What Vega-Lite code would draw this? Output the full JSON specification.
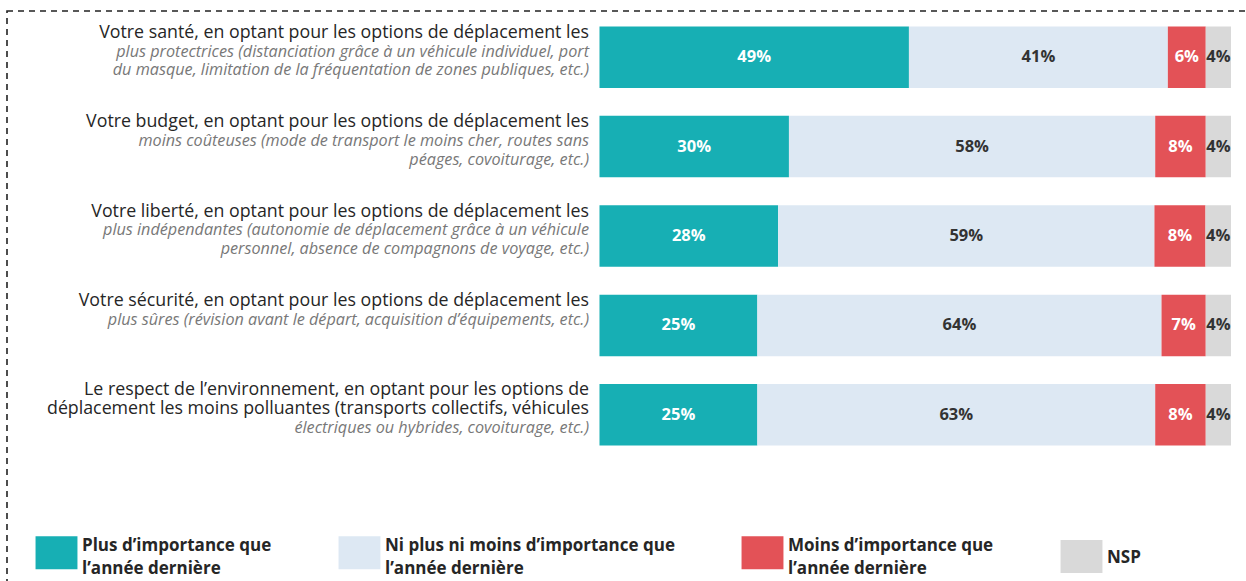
{
  "$schema": "https://vega.github.io/schema/vega-lite/v6.json",
  "width": 1260,
  "height": 600,
  "autosize": {"type": "none"},
  "padding": {"left": 7, "top": 11, "right": 0, "bottom": 0},
  "background": "white",
  "config": {
    "view": {"stroke": "#222222", "strokeWidth": 1.6, "strokeDash": [6, 5]},
    "font": "Open Sans"
  },
  "datasets": {
    "bars": [
      {"item": "Votre santé", "cat": "Plus d’importance que l’année dernière", "k": 1, "value": 49},
      {"item": "Votre santé", "cat": "Ni plus ni moins d’importance que l’année dernière", "k": 2, "value": 41},
      {"item": "Votre santé", "cat": "Moins d’importance que l’année dernière", "k": 3, "value": 6},
      {"item": "Votre santé", "cat": "NSP", "k": 4, "value": 4},
      {"item": "Votre budget", "cat": "Plus d’importance que l’année dernière", "k": 1, "value": 30},
      {"item": "Votre budget", "cat": "Ni plus ni moins d’importance que l’année dernière", "k": 2, "value": 58},
      {"item": "Votre budget", "cat": "Moins d’importance que l’année dernière", "k": 3, "value": 8},
      {"item": "Votre budget", "cat": "NSP", "k": 4, "value": 4},
      {"item": "Votre liberté", "cat": "Plus d’importance que l’année dernière", "k": 1, "value": 28},
      {"item": "Votre liberté", "cat": "Ni plus ni moins d’importance que l’année dernière", "k": 2, "value": 59},
      {"item": "Votre liberté", "cat": "Moins d’importance que l’année dernière", "k": 3, "value": 8},
      {"item": "Votre liberté", "cat": "NSP", "k": 4, "value": 4},
      {"item": "Votre sécurité", "cat": "Plus d’importance que l’année dernière", "k": 1, "value": 25},
      {"item": "Votre sécurité", "cat": "Ni plus ni moins d’importance que l’année dernière", "k": 2, "value": 64},
      {"item": "Votre sécurité", "cat": "Moins d’importance que l’année dernière", "k": 3, "value": 7},
      {"item": "Votre sécurité", "cat": "NSP", "k": 4, "value": 4},
      {"item": "Le respect de l’environnement", "cat": "Plus d’importance que l’année dernière", "k": 1, "value": 25},
      {"item": "Le respect de l’environnement", "cat": "Ni plus ni moins d’importance que l’année dernière", "k": 2, "value": 63},
      {"item": "Le respect de l’environnement", "cat": "Moins d’importance que l’année dernière", "k": 3, "value": 8},
      {"item": "Le respect de l’environnement", "cat": "NSP", "k": 4, "value": 4}
    ],
    "labels": [
      {"item": "Votre santé", "line": 0, "s": "n", "text": "Votre santé, en optant pour les options de déplacement les"},
      {"item": "Votre santé", "line": 1, "s": "i", "text": "plus protectrices (distanciation grâce à un véhicule individuel, port"},
      {"item": "Votre santé", "line": 2, "s": "i", "text": "du masque, limitation de la fréquentation de zones publiques, etc.)"},
      {"item": "Votre budget", "line": 0, "s": "n", "text": "Votre budget, en optant pour les options de déplacement les"},
      {"item": "Votre budget", "line": 1, "s": "i", "text": "moins coûteuses (mode de transport le moins cher, routes sans"},
      {"item": "Votre budget", "line": 2, "s": "i", "text": "péages, covoiturage, etc.)"},
      {"item": "Votre liberté", "line": 0, "s": "n", "text": "Votre liberté, en optant pour les options de déplacement les"},
      {"item": "Votre liberté", "line": 1, "s": "i", "text": "plus indépendantes (autonomie de déplacement grâce à un véhicule"},
      {"item": "Votre liberté", "line": 2, "s": "i", "text": "personnel, absence de compagnons de voyage, etc.)"},
      {"item": "Votre sécurité", "line": 0, "s": "n", "text": "Votre sécurité, en optant pour les options de déplacement les"},
      {"item": "Votre sécurité", "line": 1, "s": "i", "text": "plus sûres (révision avant le départ, acquisition d’équipements, etc.)"},
      {"item": "Le respect de l’environnement", "line": 0, "s": "n", "text": "Le respect de l’environnement, en optant pour les options de"},
      {"item": "Le respect de l’environnement", "line": 1, "s": "n", "text": "déplacement les moins polluantes (transports collectifs, véhicules"},
      {"item": "Le respect de l’environnement", "line": 2, "s": "i", "text": "électriques ou hybrides, covoiturage, etc.)"}
    ]
  },
  "encoding": {
    "y": {
      "field": "item", "type": "nominal", "axis": null,
      "scale": {"domain": ["Votre santé", "Votre budget", "Votre liberté", "Votre sécurité", "Le respect de l’environnement"], "range": [1.5, 448.5], "paddingInner": 0.312, "paddingOuter": 0.156}
    }
  },
  "layer": [
    {
      "data": {"name": "bars"},
      "transform": [
        {"stack": "value", "groupby": ["item"], "sort": [{"field": "k", "order": "ascending"}], "offset": "normalize", "as": ["x0", "x1"]}
      ],
      "mark": {"type": "bar"},
      "encoding": {
        "x": {"field": "x0", "type": "quantitative", "scale": {"domain": [-0.9382, 1.057], "nice": false, "zero": false}, "axis": null},
        "x2": {"field": "x1"},
        "color": {
          "field": "cat", "type": "nominal",
          "scale": {
            "domain": ["Plus d’importance que l’année dernière", "Ni plus ni moins d’importance que l’année dernière", "Moins d’importance que l’année dernière", "NSP"],
            "range": ["#17AFB4", "#DDE8F3", "#E35257", "#D9D9D9"]
          },
          "legend": {
            "orient": "none", "legendX": 33, "legendY": 525, "direction": "horizontal", "columns": 4, "columnPadding": 66,
            "title": null, "padding": 0,
            "symbolType": "M-1.27,-1H1.27V1H-1.27Z", "symbolSize": 1089, "symbolStrokeWidth": 0, "symbolOpacity": 1,
            "labelFont": "Open Sans", "labelFontSize": 17, "labelFontWeight": "bold", "labelColor": "#262626", "labelLimit": 400, "labelOffset": 9,
            "labelExpr": "split(replace(datum.label, ' l’année', '|l’année'), '|')",
            "encode": {"labels": {"update": {"lineHeight": {"value": 23}, "dy": {"signal": "datum.value === 'NSP' ? 1 : -7"}}}}
          }
        }
      }
    },
    {
      "data": {"name": "bars"},
      "transform": [
        {"stack": "value", "groupby": ["item"], "sort": [{"field": "k", "order": "ascending"}], "offset": "normalize", "as": ["x0", "x1"]},
        {"calculate": "(datum.x0 + datum.x1) / 2", "as": "mid"},
        {"calculate": "datum.value + '%'", "as": "txt"}
      ],
      "mark": {"type": "text", "fontWeight": "bold", "fontSize": 16.5, "font": "Open Sans"},
      "encoding": {
        "x": {"field": "mid", "type": "quantitative"},
        "text": {"field": "txt"},
        "color": {"condition": {"test": "datum.k == 1 || datum.k == 3", "value": "#FFFFFF"}, "value": "#333333"}
      }
    },
    {
      "data": {"name": "labels"},
      "transform": [{"filter": "datum.s == 'n' && datum.line == 0"}],
      "mark": {"type": "text", "align": "right", "baseline": "middle", "fontSize": 17.8, "font": "Open Sans", "color": "#262626", "dy": -24.5},
      "encoding": {"x": {"datum": -0.0166}, "text": {"field": "text"}}
    },
    {
      "data": {"name": "labels"},
      "transform": [{"filter": "datum.s == 'n' && datum.line == 1"}],
      "mark": {"type": "text", "align": "right", "baseline": "middle", "fontSize": 17.8, "font": "Open Sans", "color": "#262626", "dy": -5.7},
      "encoding": {"x": {"datum": -0.0166}, "text": {"field": "text"}}
    },
    {
      "data": {"name": "labels"},
      "transform": [{"filter": "datum.s == 'i' && datum.line == 1"}],
      "mark": {"type": "text", "align": "right", "baseline": "middle", "fontSize": 16.2, "font": "Open Sans", "fontStyle": "italic", "color": "#787878", "dy": -5.7},
      "encoding": {"x": {"datum": -0.0166}, "text": {"field": "text"}}
    },
    {
      "data": {"name": "labels"},
      "transform": [{"filter": "datum.s == 'i' && datum.line == 2"}],
      "mark": {"type": "text", "align": "right", "baseline": "middle", "fontSize": 16.2, "font": "Open Sans", "fontStyle": "italic", "color": "#787878", "dy": 13.1},
      "encoding": {"x": {"datum": -0.0166}, "text": {"field": "text"}}
    }
  ]
}
